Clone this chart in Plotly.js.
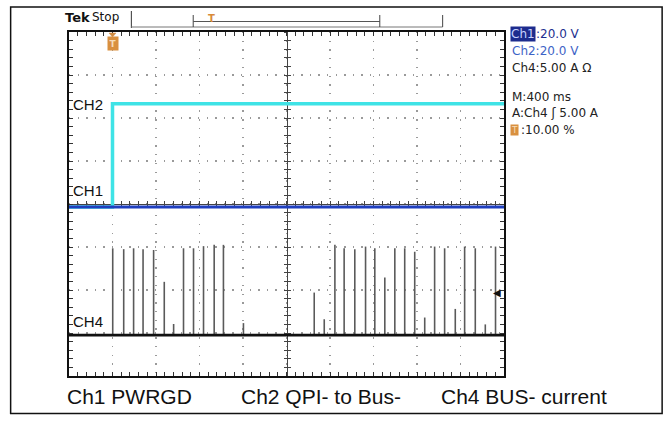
<!DOCTYPE html>
<html>
<head>
<meta charset="utf-8">
<script src="https://cdn.plot.ly/plotly-3.0.1.min.js"></script>
<style>html,body{margin:0;padding:0;background:#fff;}#chart{width:670px;height:423px;}</style>
</head>
<body>
<div id="chart"></div>
<script>
// ---- scope settings ----
const timePerDiv = 0.4;          // M:400 ms
const ch1VoltsPerDiv = 20;       // Ch1:20.0 V
const ch2VoltsPerDiv = 20;       // Ch2:20.0 V
const ch4AmpsPerDiv = 5;         // Ch4:5.00 A
const ch4TriggerAmps = 5;        // A:Ch4 5.00 A
const ch1Ground = -0.07;         // ground marker level, divisions
const ch2Ground = -0.07;
const ch4Ground = -3.05;

// ---- data ----
const ch1Time = [-0.4, 3.6];
const ch1Volts = [0, 0];
const ch2Time = [-0.4, 0.0, 0.0, 3.6];
const ch2Volts = [0, 0, 48, 48];
const ch4BaseTime = [-0.4, 3.6];
const ch4BaseAmps = [0, 0];
const ch4SpikeTimes = [0.002, 0.103, 0.194, 0.281, 0.378, 0.476, 0.562, 0.653, 0.745, 0.837, 0.935, 1.020, 1.204,
  1.855, 1.947, 2.045, 2.130, 2.228, 2.327, 2.412, 2.504, 2.596, 2.687, 2.779, 2.871, 2.962, 3.054, 3.152, 3.238, 3.336, 3.428, 3.522];
const ch4SpikeAmps = [10.1, 10.0, 10.1, 10.0, 9.9, 6.2, 1.3, 10.1, 10.1, 10.35, 10.5, 10.5, 1.4,
  4.95, 1.85, 10.5, 10.1, 10.0, 10.3, 10.1, 6.7, 10.1, 10.1, 9.7, 2.05, 10.3, 10.1, 3.05, 10.3, 10.1, 1.25, 10.3];

const bottomLabels = ['Ch1 PWRGD', 'Ch2 QPI- to Bus-', 'Ch4 BUS- current'];

// ---- conversions ----
const toDiv = (vals, perDiv, ground) => vals.map(v => ground + v / perDiv);
const spikeX = [], spikeY = [];
ch4SpikeTimes.forEach((t, i) => {
  spikeX.push(t, t, null);
  spikeY.push(ch4Ground, ch4Ground + ch4SpikeAmps[i] / ch4AmpsPerDiv, null);
});

const traces = [
  {x: spikeX, y: spikeY, mode: 'lines', line: {color: '#5a5a5a', width: 1.6}, hoverinfo: 'skip', showlegend: false},
  {x: ch4BaseTime, y: toDiv(ch4BaseAmps, ch4AmpsPerDiv, ch4Ground), mode: 'lines', line: {color: '#111', width: 2.6}, hoverinfo: 'skip', showlegend: false},
  {x: ch2Time, y: toDiv(ch2Volts, ch2VoltsPerDiv, ch2Ground), mode: 'lines', line: {color: '#3fe3e6', width: 3.5}, hoverinfo: 'skip', showlegend: false},
  {x: ch1Time, y: toDiv(ch1Volts, ch1VoltsPerDiv, ch1Ground), mode: 'lines', line: {color: '#1f3fbf', width: 3.2}, hoverinfo: 'skip', showlegend: false},
  {x: [null], y: [null], xaxis: 'x2', yaxis: 'y2', hoverinfo: 'skip', showlegend: false},
  {x: [null], y: [null], xaxis: 'x3', yaxis: 'y3', hoverinfo: 'skip', showlegend: false}
];

// ---- layout geometry (pixels) ----
const W = 670, H = 423, L = 68.5, R = 504.5, T = 32, B = 376;
const px = x => (x - L) / (R - L);
const py = y => (B - y) / (B - T);
const xRange = [-timePerDiv, 9 * timePerDiv];

const frameX = {
  range: xRange, tick0: 0, dtick: timePerDiv, showgrid: true, gridcolor: '#9a9a9a', gridwidth: 1.3,
  griddash: '1.3px,7.42px', showline: true, linecolor: '#111', linewidth: 2, mirror: 'ticks',
  ticks: 'inside', ticklen: 4, tickcolor: '#333', tickwidth: 1, showticklabels: false, zeroline: false,
  minor: {tick0: 0, dtick: timePerDiv / 5, ticks: 'inside', ticklen: 4, tickcolor: '#333', tickwidth: 1, showgrid: false},
  fixedrange: true
};
const frameY = {
  range: [-4, 4], tick0: 0, dtick: 1, showgrid: true, gridcolor: '#9a9a9a', gridwidth: 1.3,
  griddash: '1.3px,7.3px', showline: true, linecolor: '#111', linewidth: 2, mirror: 'ticks',
  ticks: 'inside', ticklen: 4, tickcolor: '#333', tickwidth: 1, showticklabels: false, zeroline: false,
  minor: {tick0: 0, dtick: 0.2, ticks: 'inside', ticklen: 4, tickcolor: '#333', tickwidth: 1, showgrid: false},
  fixedrange: true
};
function cross(base, side) {
  return {
    range: base.range, tick0: 0, dtick: base.dtick, overlaying: side === 'x' ? 'x' : 'y', anchor: 'free', position: 0.5,
    showgrid: false, zeroline: false, showline: true, linecolor: '#444', linewidth: 1, showticklabels: false,
    ticklen: 3, tickcolor: '#444', tickwidth: 1, layer: 'below traces',
    minor: {tick0: 0, dtick: base.minor.dtick, ticklen: 3, tickcolor: '#444', tickwidth: 1, showgrid: false},
    fixedrange: true
  };
}
const x2 = cross(frameX, 'x'); x2.ticks = 'inside'; x2.minor.ticks = 'inside';
const x3 = cross(frameX, 'x'); x3.ticks = 'outside'; x3.minor.ticks = 'outside';
const y2 = cross(frameY, 'y'); y2.ticks = 'inside'; y2.minor.ticks = 'inside';
const y3 = cross(frameY, 'y'); y3.ticks = 'outside'; y3.minor.ticks = 'outside';

function txt(x, y, text, opts) {
  return Object.assign({xref: 'paper', yref: 'paper', x: px(x), y: py(y), text: text, showarrow: false,
    xanchor: 'left', yanchor: 'middle', font: {family: 'DejaVu Sans', size: 12, color: '#222'}}, opts || {});
}
function seg(x0, y0, x1, y1, color, width) {
  return {type: 'line', xref: 'paper', yref: 'paper', x0: px(x0), y0: py(y0), x1: px(x1), y1: py(y1),
    line: {color: color, width: width}};
}

const annotations = [
  // header
  txt(62, 18, '<b>Tek</b>', {font: {family: 'DejaVu Sans', size: 13, color: '#111'}}),
  txt(90, 17, 'Stop', {font: {family: 'DejaVu Sans', size: 12, color: '#111'}}),
  txt(211, 19, '<b>T</b>', {xanchor: 'center', font: {family: 'DejaVu Sans', size: 10, color: '#d88a3a'}}),
  // trigger position marker at top of graticule
  {xref: 'x', yref: 'paper', x: 0, y: py(43.5), text: '<b>T</b>', showarrow: false, xanchor: 'center', yanchor: 'middle',
    bgcolor: '#d9903f', borderpad: 1.5, font: {family: 'DejaVu Sans', size: 9, color: '#f6dcb8'}},
  // channel labels
  txt(71, 104, 'CH2', {font: {family: 'Liberation Sans', size: 15, color: '#111'}}),
  txt(71, 190, 'CH1', {font: {family: 'Liberation Sans', size: 15, color: '#111'}}),
  txt(71, 321, 'CH4', {font: {family: 'Liberation Sans', size: 15, color: '#111'}}),
  // trigger level arrow
  {xref: 'paper', yref: 'y', x: px(503), y: ch4Ground + ch4TriggerAmps / ch4AmpsPerDiv, text: '◀', showarrow: false,
    xanchor: 'right', yanchor: 'middle', font: {family: 'DejaVu Sans', size: 10, color: '#111'}},
  // right readout
  txt(511, 34, 'Ch1', {bgcolor: '#1d2c8e', borderpad: 0, font: {family: 'DejaVu Sans', size: 12, color: '#c8d2ff'}}),
  txt(535, 34, ':20.0 V', {font: {family: 'DejaVu Sans', size: 12, color: '#1d2f8f'}}),
  txt(511, 51, 'Ch2:20.0 V', {font: {family: 'DejaVu Sans', size: 12, color: '#3d63c6'}}),
  txt(511, 68, 'Ch4:5.00 A Ω', {font: {family: 'DejaVu Sans', size: 12, color: '#222'}}),
  txt(511, 97, 'M:400 ms', {font: {family: 'DejaVu Sans', size: 12, color: '#222'}}),
  txt(511, 113, 'A:Ch4 ʃ 5.00 A', {font: {family: 'DejaVu Sans', size: 12, color: '#222'}}),
  txt(511, 130, 'T', {bgcolor: '#d9903f', borderpad: 0, font: {family: 'DejaVu Sans', size: 9, color: '#f6dcb8'}}),
  txt(520, 130, ':10.00 %', {font: {family: 'DejaVu Sans', size: 12, color: '#222'}}),
  // bottom captions
  txt(64, 396, bottomLabels[0], {font: {family: 'Liberation Sans', size: 21, color: '#111'}}),
  txt(239, 396, bottomLabels[1], {font: {family: 'Liberation Sans', size: 21, color: '#111'}}),
  txt(439, 396, bottomLabels[2], {font: {family: 'Liberation Sans', size: 21, color: '#111'}})
];

const shapes = [
  // outer frame
  {type: 'rect', xref: 'paper', yref: 'paper', x0: px(10), y0: py(7), x1: px(663), y1: py(413.5), line: {color: '#111', width: 1.5}},
  // record bar
  seg(131, 11, 131, 28, '#333', 1),
  seg(131, 27, 443, 27, '#777', 1),
  seg(193, 15, 193, 27, '#444', 1),
  seg(193, 21.5, 380, 21.5, '#555', 1),
  seg(380, 15, 380, 27, '#444', 1),
  seg(443, 15, 443, 27, '#444', 1),
  // small down-pointing arrow above the trigger-position marker
  {type: 'path', xref: 'x', yref: 'paper', xsizemode: 'pixel', ysizemode: 'pixel', xanchor: 0, yanchor: py(33),
    path: 'M-3.5,0 L3.5,0 L0,-4 Z', fillcolor: '#d08a40', line: {color: '#d08a40', width: 0.5}}
];

const layout = {
  width: W, height: H,
  margin: {l: L, r: W - R, t: T, b: H - B, pad: 0},
  paper_bgcolor: '#fff', plot_bgcolor: '#fff',
  showlegend: false,
  xaxis: frameX, yaxis: frameY,
  xaxis2: x2, yaxis2: y2, xaxis3: x3, yaxis3: y3,
  annotations: annotations, shapes: shapes
};

Plotly.newPlot('chart', traces, layout, {staticPlot: true, displayModeBar: false});
</script>
</body>
</html>
